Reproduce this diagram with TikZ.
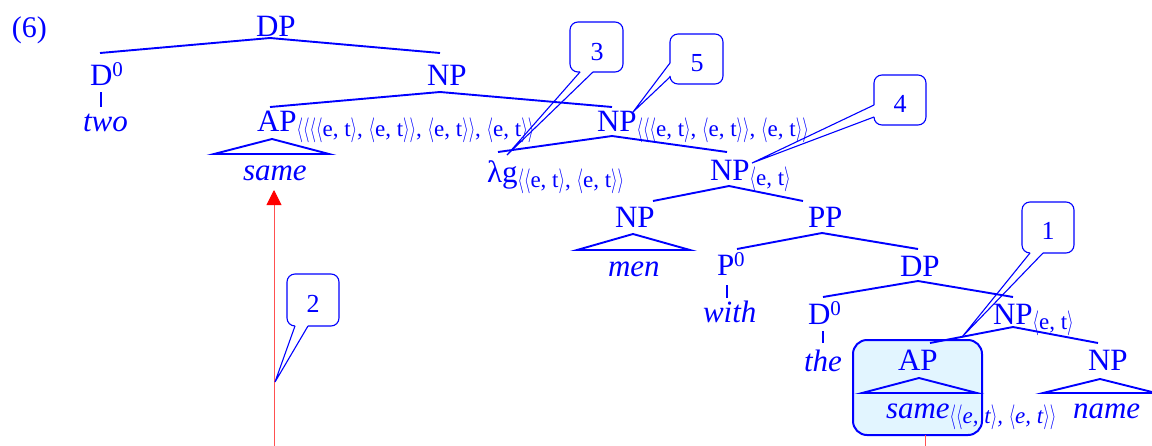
\documentclass[tikz,border=0pt]{standalone}
\usepackage{graphicx}
\usepackage{fontspec}
\setmainfont{Liberation Serif}
\usetikzlibrary{arrows.meta}
\definecolor{treeblue}{RGB}{0,0,255}
\definecolor{boxfill}{RGB}{226,245,255}
\definecolor{arrowred}{RGB}{255,0,0}
\definecolor{linered}{RGB}{255,80,80}
\newcommand\Lan{\scalebox{0.67}[1]{$\langle$}}
\newcommand\Ran{\scalebox{0.67}[1]{$\rangle$}}
\newcommand\Sb[1]{\raisebox{-5pt}{\fontsize{23}{27}\selectfont #1}}
\newcommand\Sp[1]{\raisebox{9pt}{\fontsize{21}{25}\selectfont #1}}
\newcommand\ET{\Lan e, t\Ran}
\tikzset{
  lab/.style={inner sep=0pt, outer sep=0pt, text=treeblue, font=\fontsize{31}{37}\selectfont, anchor=base west},
  num/.style={inner sep=0pt, outer sep=0pt, text=treeblue, font=\fontsize{26}{31}\selectfont, anchor=base},
  edge/.style={draw=treeblue, line width=1.9pt},
  cl/.style={draw=treeblue, line width=1.1pt, rounded corners=8pt},
  ptr/.style={draw=treeblue, line width=1.1pt},
}
\begin{document}
\begin{tikzpicture}[x=1pt,y=-1pt]
\useasboundingbox (0,0) rectangle (1152,445);

% highlighted box
\draw[draw=treeblue, fill=boxfill, line width=2pt, rounded corners=14pt] (853,340) rectangle (982,435);

% labels
\node[lab, font=\fontsize{30}{36}\selectfont] (ex) at (12,37) {(6)};
\node[lab] (dp1) at (256,36) {DP};
\node[lab] (d1) at (90,85) {D\Sp{0}};
\node[lab] (two) at (83,131) {\itshape two};
\node[lab] (np1) at (427,85) {NP};
\node[lab] (ap1) at (257,131) {AP\Sb{\Lan\Lan\Lan\ET, \ET\Ran, \ET\Ran, \ET\Ran}};
\node[lab] (same1) at (243,180) {\itshape same};
\node[lab] (np2) at (597,131) {NP\Sb{\Lan\Lan\ET, \ET\Ran, \ET\Ran}};
\node[lab] (lam) at (487,182) {λg\Sb{\Lan\ET, \ET\Ran}};
\node[lab] (np3) at (710,180) {NP\Sb{\ET}};
\node[lab] (np4) at (615,227) {NP};
\node[lab] (men) at (608,276) {\itshape men};
\node[lab] (pp) at (808,227) {PP};
\node[lab] (p0) at (717,275) {P\Sp{0}};
\node[lab] (with) at (703,322) {\itshape with};
\node[lab] (dp2) at (900,276) {DP};
\node[lab] (d2) at (808,324) {D\Sp{0}};
\node[lab] (the) at (804,371) {\itshape the};
\node[lab] (np5) at (993,324) {NP\Sb{\ET}};
\node[lab] (ap2) at (898,370) {AP};
\node[lab] (same2) at (886,418) {\itshape same\Sb{\Lan\ET, \ET\Ran}};
\node[lab] (np6) at (1088,370) {NP};
\node[lab] (name) at (1073,418) {\itshape name};

% tree coordinates
\coordinate (a1) at (270,38); \coordinate (l1) at (100,53); \coordinate (r1) at (440,53);
\coordinate (a2) at (440,92); \coordinate (l2) at (270,107); \coordinate (r2) at (612,107);
\coordinate (a3) at (612,136); \coordinate (l3) at (498,152); \coordinate (r3) at (727,152);
\coordinate (a4) at (729,186); \coordinate (l4) at (653,201); \coordinate (r4) at (803,201);
\coordinate (a5) at (822,233); \coordinate (l5) at (737,249); \coordinate (r5) at (918,249);
\coordinate (a6) at (918,281); \coordinate (l6) at (823,297); \coordinate (r6) at (1013,297);
\coordinate (a7) at (1013,327); \coordinate (l7) at (930,343); \coordinate (r7) at (1098,343);
\coordinate (d1t) at (101,92); \coordinate (d1b) at (101,107);
\coordinate (p0t) at (727,285); \coordinate (p0b) at (727,298);
\coordinate (d2t) at (823,331); \coordinate (d2b) at (823,343);
\coordinate (t1a) at (272,139); \coordinate (t1l) at (214,154); \coordinate (t1r) at (329,154);
\coordinate (t2a) at (633,234); \coordinate (t2l) at (577,250); \coordinate (t2r) at (690,250);
\coordinate (t3a) at (919,378); \coordinate (t3l) at (862,393); \coordinate (t3r) at (977,393);
\coordinate (t4a) at (1100,379); \coordinate (t4l) at (1043,393); \coordinate (t4r) at (1156,393);

\draw[edge] (l1) -- (a1) -- (r1);
\draw[edge] (l2) -- (a2) -- (r2);
\draw[edge] (l3) -- (a3) -- (r3);
\draw[edge] (l4) -- (a4) -- (r4);
\draw[edge] (l5) -- (a5) -- (r5);
\draw[edge] (l6) -- (a6) -- (r6);
\draw[edge] (l7) -- (a7) -- (r7);
\draw[edge] (d1t) -- (d1b);
\draw[edge] (p0t) -- (p0b);
\draw[edge] (d2t) -- (d2b);
\draw[edge] (t1l) -- (t1a) -- (t1r) -- cycle;
\draw[edge] (t2l) -- (t2a) -- (t2r) -- cycle;
\draw[edge] (t3l) -- (t3a) -- (t3r) -- cycle;
\draw[edge] (t4l) -- (t4a) -- (t4r) -- cycle;

% red arrows
\coordinate (rb) at (274,446); \coordinate (rt) at (274,190);
\draw[draw=linered, line width=0.9pt, -{Triangle[width=15pt,length=15pt,color=arrowred]}] (rb) -- (rt);
\coordinate (rb2) at (925,446); \coordinate (rt2) at (925,435);
\draw[draw=linered, line width=0.9pt] (rt2) -- (rb2);

% callouts
\node[num] (c3) at (597,60) {3};
\coordinate (k3) at (507,155);
\coordinate (g3a) at (580,72); \coordinate (g3b) at (593,72);
\draw[cl] (g3a) -- (570,72) -- (570,22) -- (623,22) -- (623,72) -- (g3b);
\draw[ptr] (g3a) -- (k3) -- (g3b);

\node[num] (c5) at (697,71) {5};
\coordinate (k5) at (633,112);
\coordinate (g5a) at (670,63); \coordinate (g5b) at (670,77);
\draw[cl] (g5a) -- (670,34) -- (723,34) -- (723,84) -- (670,84) -- (g5b);
\draw[ptr] (g5a) -- (k5) -- (g5b);

\node[num] (c4) at (900,112) {4};
\coordinate (k4) at (752,163);
\coordinate (g4a) at (874,105); \coordinate (g4b) at (874,117);
\draw[cl] (g4a) -- (874,75) -- (926,75) -- (926,125) -- (874,125) -- (g4b);
\draw[ptr] (g4a) -- (k4) -- (g4b);

\node[num] (c1) at (1048,239) {1};
\coordinate (k1) at (962,337);
\coordinate (g1a) at (1030,253); \coordinate (g1b) at (1043,253);
\draw[cl] (g1a) -- (1022,253) -- (1022,202) -- (1074,202) -- (1074,253) -- (g1b);
\draw[ptr] (g1a) -- (k1) -- (g1b);

\node[num] (c2) at (313,312) {2};
\coordinate (k2) at (275,382);
\coordinate (g2a) at (295,326); \coordinate (g2b) at (308,326);
\draw[cl] (g2a) -- (287,326) -- (287,274) -- (339,274) -- (339,326) -- (g2b);
\draw[ptr] (g2a) -- (k2) -- (g2b);
\end{tikzpicture}
\end{document}
